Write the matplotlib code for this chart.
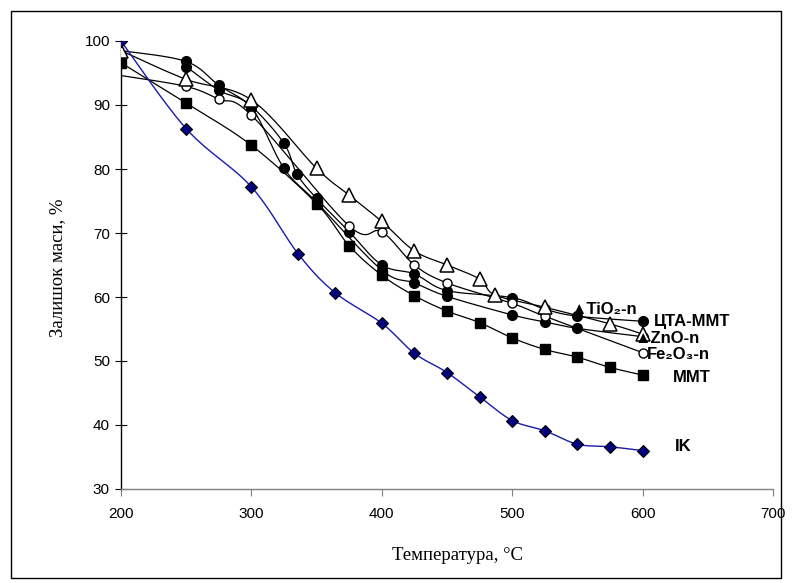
import numpy as np
import matplotlib
matplotlib.use('Agg')
import matplotlib.pyplot as plt
import matplotlib.patches as patches

plt.rcParams['font.family'] = ['Liberation Sans', 'DejaVu Sans']

# data (temperature, residual mass %)
ik_t = [200, 250, 300, 336, 364, 400, 425, 450, 475, 500, 525, 550, 575, 600]
ik_m = [100, 86.3, 77.2, 66.7, 60.7, 55.9, 51.2, 48.2, 44.4, 40.7, 39.1, 37.0, 36.6, 36.0]

mmt_t = [200, 250, 300, 350, 375, 400, 425, 450, 475, 500, 525, 550, 575, 600]
mmt_m = [96.6, 90.3, 83.7, 74.6, 68.0, 63.4, 60.2, 57.8, 56.0, 53.6, 51.8, 50.6, 49.0, 47.8]

tio2_t = [200, 250, 300, 350, 375, 400, 425, 450, 475, 487, 525, 575, 600]
tio2_m = [98.5, 94.0, 90.8, 80.1, 75.9, 71.8, 67.2, 65.0, 62.8, 60.3, 58.4, 55.8, 54.2]

cta_t = [200, 250, 275, 300, 325, 335, 350, 375, 400, 425, 450, 500, 525, 550, 600]
cta_m = [98.5, 96.8, 93.1, 89.8, 84.0, 79.2, 75.4, 70.2, 65.0, 63.6, 61.0, 59.9, 58.1, 57.0, 56.2]

zno_t = [250, 275, 300, 325, 350, 400, 425, 450, 500, 525, 550, 600]
zno_m = [96.0, 92.3, 89.6, 80.1, 74.8, 64.2, 62.2, 60.1, 57.2, 56.1, 55.1, 53.8]

fe_t = [200, 250, 275, 300, 375, 400, 425, 450, 500, 525, 600]
fe_m = [94.6, 92.9, 90.9, 88.4, 71.1, 70.2, 65.0, 62.2, 59.0, 57.0, 51.3]


def smooth(xs, ys, n=20):
    # excel-like smoothed line (bezier through points)
    P = np.column_stack([xs, ys]).astype(float)
    out = []
    for i in range(len(P) - 1):
        p0 = P[max(i - 1, 0)]
        p1 = P[i]
        p2 = P[i + 1]
        p3 = P[min(i + 2, len(P) - 1)]
        c1 = p1 + (p2 - p0) / 6.0
        c2 = p2 - (p3 - p1) / 6.0
        t = np.linspace(0, 1, n)[:, None]
        seg = (1 - t) ** 3 * p1 + 3 * (1 - t) ** 2 * t * c1 + 3 * (1 - t) * t ** 2 * c2 + t ** 3 * p2
        out.append(seg if i == 0 else seg[1:])
    out = np.vstack(out)
    return out[:, 0], out[:, 1]


fig = plt.figure(figsize=(7.92, 5.83), dpi=100)
ax = fig.add_axes([121 / 792, 94 / 583, 652 / 792, 448 / 583])

# lines
for t, m in [(mmt_t, mmt_m), (tio2_t, tio2_m), (cta_t, cta_m), (zno_t, zno_m), (fe_t, fe_m)]:
    sx, sy = smooth(t, m)
    ax.plot(sx, sy, color='black', lw=0.9, zorder=2)
sx, sy = smooth(ik_t, ik_m)
ax.plot(sx, sy, color='#1a1aaa', lw=1.0, zorder=2)

# markers
ax.plot(mmt_t, mmt_m, ls='none', marker='s', ms=6.8, mfc='black', mec='black', zorder=3)
ax.plot(cta_t[1:], cta_m[1:], ls='none', marker='o', ms=7, mfc='black', mec='black', zorder=3)
ax.plot(zno_t, zno_m, ls='none', marker='o', ms=7, mfc='black', mec='black', zorder=3)
ax.plot(fe_t[1:], fe_m[1:], ls='none', marker='o', ms=6.5, mfc='white', mec='black', mew=1.0, zorder=4)
ax.plot(tio2_t, tio2_m, ls='none', marker='^', ms=10, mfc='white', mec='black', mew=1.1, zorder=4)
ax.plot(ik_t, ik_m, ls='none', marker='D', ms=6.3, mfc='#000080', mec='black', mew=0.8, zorder=5)

# series labels
lab_kw = dict(fontsize=12, fontweight='bold', va='center', ha='left', zorder=6)
ax.text(545, 58.0, '\u25b2TiO\u2082-n', **lab_kw)
ax.text(609, 56.2, 'ЦТА-ММТ', **lab_kw)
ax.text(594, 53.5, '\u25b2ZnO-n', **lab_kw)
ax.text(603, 51.0, 'Fe\u2082O\u2083-n', **lab_kw)
ax.text(623, 47.5, 'MMT', **lab_kw)
ax.text(625, 36.6, 'IK', **lab_kw)

ax.set_xlim(200, 700)
ax.set_ylim(30, 100)
ax.set_xticks(range(200, 701, 100))
ax.set_yticks(range(30, 101, 10))
ax.tick_params(axis='both', labelsize=11)
ax.tick_params(axis='x', direction='out', length=5, color='#808080', pad=8)
ax.tick_params(axis='y', direction='inout', length=8, color='black', pad=4)
for s in ['top', 'right']:
    ax.spines[s].set_visible(False)
ax.spines['bottom'].set_color('#808080')
ax.spines['left'].set_color('black')
ax.spines['bottom'].set_linewidth(1.0)
ax.spines['left'].set_linewidth(1.0)

fig.text(457 / 792, 1 - 555 / 583, 'Температура, °C', family='Liberation Serif',
         fontsize=13.5, ha='center', va='center')
fig.text(58 / 792, 1 - 268 / 583, 'Залишок маси, %', family='Liberation Serif',
         fontsize=13.5, ha='center', va='center', rotation=90)

# outer frame
fig.patches.append(patches.Rectangle((11 / 792, 5 / 583), 770 / 792, 567 / 583,
                                     transform=fig.transFigure, fill=False,
                                     edgecolor='black', lw=1.0))

plt.savefig('out.png', dpi=100)
plt.close()
